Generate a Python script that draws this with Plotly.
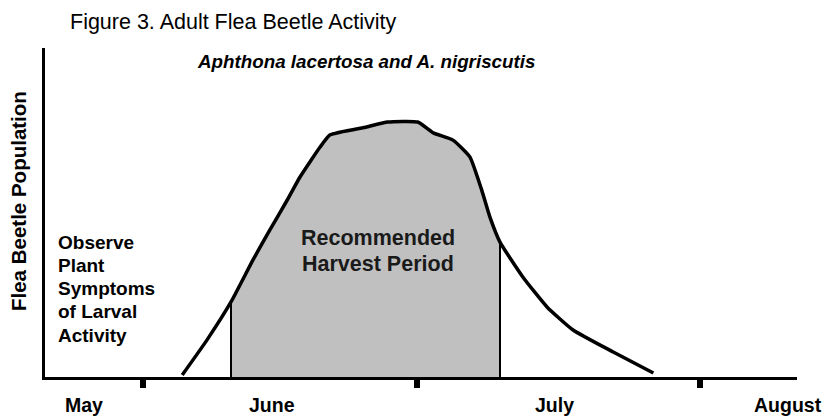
import numpy as np
import plotly.graph_objects as go

# ---- data (days counted from May 1; population in relative units) ----
days = [35.3, 38.0, 40.64, 43.05, 44.9, 46.8, 48.2, 50.4, 51.5, 55.5, 57.8, 61.1,
        62.8, 64.95, 66.8, 68.1, 69.0, 70.1, 72.6, 75.25, 78.1, 82.5, 86.9]
population = [0.6, 11.2, 22.8, 35.6, 44.7, 53.8, 60.8, 69.9, 73.6, 76.0, 77.5, 77.5,
              74.2, 72.0, 66.9, 56.8, 48.6, 41.0, 30.4, 21.3, 14.3, 7.6, 1.2]
harvest_bounds = [40.64, 70.1]
month_starts = [31, 61, 92]              # June 1, July 1, August 1
month_labels = ["May", "June", "July", "August"]
month_label_pos = [24.5, 45.1, 76.1, 101.6]
title_text = "Figure 3. Adult Flea Beetle Activity"
subtitle_text = "Aphthona lacertosa and A. nigriscutis"
ytitle_text = "Flea Beetle Population"
observe_lines = ["Observe", "Plant", "Symptoms", "of Larval", "Activity"]
harvest_lines = ["Recommended", "Harvest Period"]

FONT = "Liberation Sans, Arial, sans-serif"
PLOT_H = 329.0
PLOT_W = 752.0
SMOOTH = 0.45

d = np.array(days)
p = np.array(population)
mask = (d >= harvest_bounds[0] - 1e-9) & (d <= harvest_bounds[1] + 1e-9)
hx = d[mask]
hy = p[mask]
bound_vals = np.interp(harvest_bounds, d, p)

fig = go.Figure()
fig.add_trace(go.Scatter(x=hx, y=hy, mode="lines", line=dict(width=0, shape="spline", smoothing=SMOOTH),
                         fill="tozeroy", fillcolor="#C0C0C0", hoverinfo="skip", showlegend=False))
for bx, bv in zip(harvest_bounds, bound_vals):
    fig.add_trace(go.Scatter(x=[bx, bx], y=[0, bv], mode="lines",
                             line=dict(color="black", width=2), showlegend=False, hoverinfo="skip"))
fig.add_trace(go.Scatter(x=d, y=p, mode="lines",
                         line=dict(color="black", width=3.5, shape="spline", smoothing=SMOOTH),
                         showlegend=False))

fig.update_layout(
    width=838, height=417,
    margin=dict(l=45, r=41, t=48, b=40),
    paper_bgcolor="white", plot_bgcolor="white",
    font=dict(family=FONT, color="black"),
    title=dict(text=title_text, x=70 / 838, xanchor="left", xref="container",
               y=1 - 21 / 417, yanchor="middle", yref="container",
               font=dict(family=FONT, size=21.5, color="black")),
    xaxis=dict(range=[20.27, 102.63], showgrid=False, zeroline=False,
               showline=True, linecolor="black", linewidth=3,
               tickvals=month_starts, ticktext=["" for _ in month_starts],
               ticks="outside", ticklen=8, tickwidth=6, tickcolor="black"),
    yaxis=dict(range=[0, 100], showgrid=False, zeroline=False,
               showline=True, linecolor="black", linewidth=3,
               showticklabels=False, ticks=""),
)

for lab, pos in zip(month_labels, month_label_pos):
    fig.add_annotation(x=pos, y=(377 - 405) / PLOT_H, xref="x", yref="paper", text=lab, showarrow=False,
                       xanchor="center", yanchor="middle",
                       font=dict(family=FONT, size=19.5, color="black", weight="bold"))

fig.add_annotation(x=358 / 838, y=(377 - 62) / PLOT_H, xref="paper", yref="paper", text=subtitle_text,
                   showarrow=False, xanchor="center", yanchor="middle",
                   font=dict(family=FONT, size=18.8, color="black", weight="bold", style="italic"))
fig.add_annotation(x=-27 / PLOT_W, y=(377 - 201) / PLOT_H, xref="paper", yref="paper", text=ytitle_text,
                   showarrow=False, textangle=-90, xanchor="center", yanchor="middle",
                   font=dict(family=FONT, size=20.5, color="black", weight="bold"))
for i, line in enumerate(observe_lines):
    fig.add_annotation(x=11 / PLOT_W, y=(377 - (242 + 23.3 * i)) / PLOT_H, xref="paper", yref="paper",
                       text=line, showarrow=False, xanchor="left", yanchor="middle", align="left",
                       font=dict(family=FONT, size=19, color="black", weight="bold"))
for i, line in enumerate(harvest_lines):
    fig.add_annotation(x=(378 - 45) / PLOT_W, y=(377 - (238 + 25.5 * i)) / PLOT_H, xref="paper", yref="paper",
                       text=line, showarrow=False, xanchor="center", yanchor="middle", align="center",
                       font=dict(family=FONT, size=21.5, color="#1a1a1a", weight="bold"))

fig.write_html("out.html", config={"displayModeBar": False},
               post_script="document.body.style.margin='0px';")
